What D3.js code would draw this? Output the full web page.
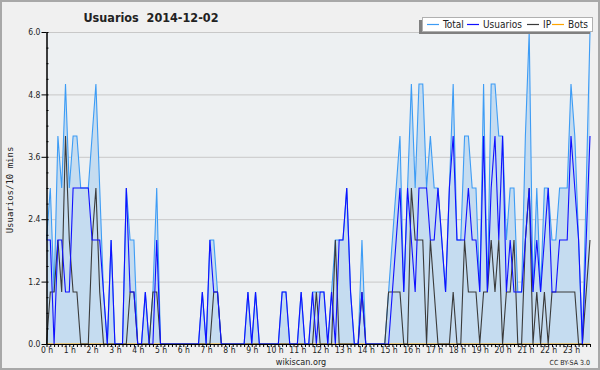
<!DOCTYPE html>
<html>
<head>
<meta charset="utf-8">
<script src="https://cdn.jsdelivr.net/npm/d3@7"></script>
<style>
  body { margin: 0; background: #f0f0f0; }
  text { font-family: "DejaVu Sans Condensed", "DejaVu Sans", sans-serif; font-stretch: condensed; fill: #222; }
  .grid line { stroke: #c8c8c8; }
  .axis path, .axis line { stroke: #000; }
</style>
</head>
<body>
<svg width="600" height="370"></svg>
<script>
// 10-minute slots, 144 per day
const total =    [2,3,1,4,3,5,3,4,4,3,3,3,4,5,3,1,0,2,0,0,0,3,2,2,0,0,1,0,1,3,
                  0,0,0,0,0,0,0,0,0,0,0,1,0,2,2,1,0,0,0,0,0,0,0,1,0,1,0,0,0,0,
                  0,0,1,1,0,0,0,1,0,0,1,1,1,1,0,1,2,2,2,3,1,0,0,2,0,0,0,0,0,0,
                  1,2,3,4,1,3,5,3,5,5,3,4,3,3,2,1,3,5,2,2,4,4,3,3,1,5,1,5,5,4,
                  4,2,3,3,1,1,4,6,1,3,1,3,3,2,2,3,3,3,5,4,2,0,3,6];
const usuarios = [2,2,0,2,2,1,1,3,3,3,3,3,2,2,2,1,0,2,0,0,0,3,1,1,0,0,1,0,0,2,
                  0,0,0,0,0,0,0,0,0,0,0,1,0,2,1,1,0,0,0,0,0,0,0,1,0,1,0,0,0,0,
                  0,0,1,1,0,0,0,1,0,0,1,0,1,1,0,1,0,2,2,3,1,0,0,1,0,0,0,0,0,0,
                  0,1,2,3,1,3,2,1,3,3,3,2,2,3,2,1,3,4,2,2,2,3,2,2,1,4,1,3,4,2,
                  4,1,2,1,1,1,2,3,1,2,1,2,3,1,1,2,2,2,4,3,2,0,2,4];
const ip =       [0,1,1,2,1,4,2,1,1,0,0,0,2,3,1,0,0,0,0,0,0,0,1,1,0,0,0,0,1,1,
                  0,0,0,0,0,0,0,0,0,0,0,0,0,0,1,1,0,0,0,0,0,0,0,0,0,0,0,0,0,0,
                  0,0,0,0,0,0,0,0,0,0,0,1,0,0,0,0,2,0,0,0,0,0,0,1,0,0,0,0,0,0,
                  1,1,1,1,0,0,3,2,2,2,0,2,1,0,0,0,0,1,0,0,2,1,1,1,0,1,1,2,1,2,
                  0,1,1,2,0,0,2,3,0,1,0,1,0,1,1,1,1,1,1,1,0,0,1,2];
const bots = total.map(() => 0);
const yTicks = [0, 1.2, 2.4, 3.6, 4.8, 6.0];
const legendItems = ["Total", "Usuarios", "IP", "Bots"];
const colors = { Total: "#3d9cf5", Usuarios: "#1010ff", IP: "#3a3a3a", Bots: "#ffa500" };

const svg = d3.select("svg");
const padLeft = 46.5, padRight = 590, padTop = 32, padBottom = 344;

svg.append("rect").attr("x", 1).attr("y", 1).attr("width", 598).attr("height", 368)
  .attr("fill", "#f0f0f0").attr("stroke", "#a8a8a8").attr("stroke-width", 2);
svg.append("rect").attr("x", padLeft).attr("y", padTop).attr("width", padRight - padLeft).attr("height", padBottom - padTop)
  .attr("fill", "#edf0f2");

const x = d3.scaleLinear().domain([0, total.length - 1]).range([padLeft, padRight]);
const y = d3.scaleLinear().domain([0, 6]).range([padBottom, padTop]);

svg.append("g").attr("class", "grid")
  .selectAll("line").data(yTicks.slice(1)).enter().append("line")
  .attr("x1", padLeft).attr("x2", padRight)
  .attr("y1", d => y(d) + 0.5).attr("y2", d => y(d) + 0.5);

svg.append("path").datum(total)
  .attr("fill", "#c5dcf0")
  .attr("d", d3.area().x((d, i) => x(i)).y0(y(0)).y1(d => y(d)));

const series = [["Bots", bots], ["Total", total], ["IP", ip], ["Usuarios", usuarios]];
series.forEach(([name, vals]) => {
  svg.append("path").datum(vals)
    .attr("fill", "none").attr("stroke", colors[name]).attr("stroke-width", 1.1)
    .attr("d", d3.line().x((d, i) => x(i)).y(d => y(d)));
});

const yAxis = svg.append("g").attr("class", "axis")
  .attr("transform", `translate(${padLeft},0)`)
  .call(d3.axisLeft(y).tickValues(yTicks).tickFormat(d3.format(".1f")).tickSize(5).tickSizeOuter(0));
yAxis.selectAll("text").style("font-size", "8.5px").attr("x", -6);

svg.append("g").attr("class", "axis")
  .attr("transform", `translate(${padLeft},0)`)
  .call(d3.axisRight(y).tickValues(d3.range(0, 6.01, 0.3)).tickFormat("").tickSize(2).tickSizeOuter(0));

const xAxis = svg.append("g").attr("class", "axis")
  .attr("transform", `translate(0,${padBottom})`)
  .call(d3.axisBottom(x).tickValues(d3.range(0, total.length))
    .tickFormat(i => i % 6 === 0 ? `${i / 6} h` : "").tickSize(3).tickSizeOuter(0));
xAxis.selectAll("text").style("font-size", "8.5px").attr("y", 3).attr("dy", "0.71em");

svg.append("text").attr("x", 151).attr("y", 22).attr("text-anchor", "middle")
  .style("font-size", "12.5px").style("font-weight", "bold").style("white-space", "pre")
  .text("Usuarios  2014-12-02");

svg.append("text").attr("transform", "translate(13,190) rotate(-90)").attr("text-anchor", "middle")
  .style("font-family", "'DejaVu Sans Mono', monospace").style("font-size", "9px")
  .text("Usuarios/10 mins");

svg.append("text").attr("x", 301).attr("y", 365).attr("text-anchor", "middle")
  .style("font-size", "9px").text("wikiscan.org");
svg.append("text").attr("x", 590).attr("y", 365).attr("text-anchor", "end")
  .style("font-size", "7px").text("CC BY-SA 3.0");

// legend
svg.append("rect").attr("x", 419).attr("y", 20).attr("width", 171).attr("height", 14).attr("fill", "#808080");
svg.append("rect").attr("x", 422.5).attr("y", 17.5).attr("width", 170).attr("height", 14)
  .attr("fill", "#fff").attr("stroke", "#b0b0b0");
const legX = [427, 467, 527, 552];
legendItems.forEach((name, i) => {
  const g = svg.append("g").attr("transform", `translate(${legX[i]},24.5)`);
  g.append("line").attr("x1", 0).attr("x2", 12).attr("stroke", colors[name]).attr("stroke-width", 1.2);
  g.append("text").attr("x", 16).attr("y", 3.5).style("font-size", "10px").text(name);
});
</script>
</body>
</html>
